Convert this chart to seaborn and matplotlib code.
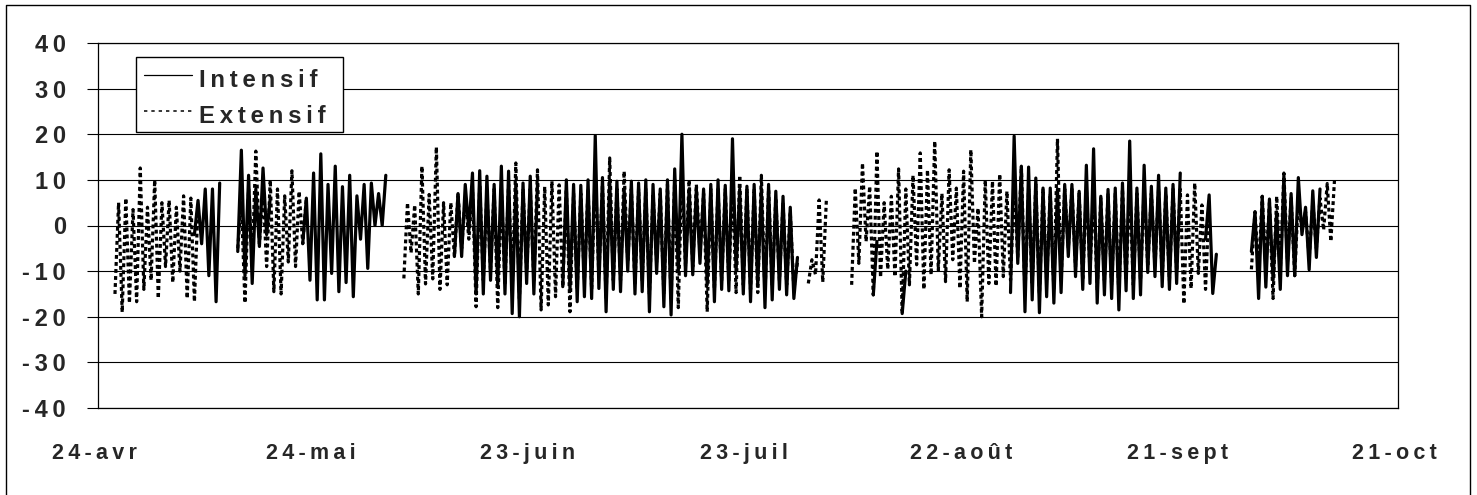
import pandas as pd
import matplotlib
matplotlib.use("Agg")
import matplotlib.pyplot as plt
from matplotlib.lines import Line2D
from matplotlib.transforms import ScaledTranslation
import seaborn as sns

# daily minima and maxima, one pair per day of each block
# first value of a block = day counted from 24-avr
ext1_start = 2.35
ext1_min = [-15, -19, -17, -16.7, -14, -12, -16, -9, -12.5, -10, -16, -16.7]
ext1_max = [5, 6, 3.5, 12.6, 4, 10, 5, 5.5, 4, 6.5, 6, 4.5]

ext2_start = 19.35
ext2_min = [-5, -17, -8, -4, -9, -14.5, -15, -8, -9, -4]
ext2_max = [5, 8, 16.3, 8, 10, 8, 6.5, 12, 7.5, 6]

ext3_start = 42.35
ext3_min = [-11.6, -6, -15, -12.8, -11.7, -14, -13, -6.8, -5, -3, -17.8,
            -12, -10, -18, -13, -14, -16, -10, -12, -18.5, -17.4, -15.6, -13.4, -18.9,
            -14, -12, -14, -11, -16, -12, -12, -8, -13, -12, -15, -8, -15, -16,
            -18, -9, -9, -6, -18.9, -14, -12, -12, -14.7, -13, -14, -14.7, -15, -13, -12, -13, -14]
ext3_max = [5, 4.5, 13, 6.8, 17.2, 5, 5, 7, 6, 8, 9,
            7, 8, 8, 9, 13.7, 8, 8, 12.2, 8.5, 9.7, 8.9, 8, 7,
            7, 8, 12, 9, 14.8, 8, 11.9, 8, 8, 8, 7, 7, 9, 10,
            12, 10, 9, 7, 8, 8, 8, 9, 11, 8, 8, 11, 8, 6, 5, 3, -8]

ext4_start = 98.35
ext4_min = [-12.7, -10.8, -12.4]
ext4_max = [-7.5, 5.6, 5.6]

ext5_start = 104.35
ext5_min = [-13, -8.3, -3.5, -15.2, -11.4, -9.6, -11.2, -19.3, -13, -8.6, -14, -10.8, -9.8,
            -12.3, -7.5, -13.8, -16.7, -8.3, -20, -12.7, -13.3, -11.2,
            -12, -7, -15, -13, -15, -12, -14, -12, -5, -9, -12, -10, -14, -12, -13, -15,
            -12, -13, -12, -9, -9, -11, -12, -10, -17.2, -13.8, -10.5, -14]
ext5_max = [8.2, 13.7, 8.6, 16.3, 5, 6.4, 12.4, 8, 11, 15.9, 12.2, 18.5, 7,
            12.2, 8.2, 11.9, 16.6, 3.8, 10, 9.7, 11.3, 7.5,
            8, 13, 8, 9, 8, 7, 19, 8, 8, 7, 8, 8, 6, 7, 7, 8,
            8, 7, 8, 7, 8, 7, 8, 8, 6.7, 9.3, 4.5, 5]

ext6_start = 159.7
ext6_min = [-9.6, -10, -9, -16, -10, -8, -11, -1, -7, -5, -1, -3.5]
ext6_max = [3, 6.4, 5, 6.4, 11.5, 6, 6, 3, 5, 6, 9.2, 9.8]

int1_start = 13.35
int1_min = [-2, -4, -11, -16.7]
int1_max = [5.5, 8, 8, 9.3]

int2_start = 19.35
int2_min = [-5.7, -11, -12.7, -4.6, -2]
int2_max = [16.5, 11, 8, 12.6, 6]

int3_start = 28.35
int3_min = [-3.9, -12, -16.3, -16.3, -10.5, -14.5, -12.5, -15.6, -3, -9.4, 0, 0]
int3_max = [6, 11.5, 15.7, 9, 13, 8.5, 11, 6.5, 9, 9.3, 7, 11]

int4_start = 49.35
int4_min = [-6.8, -6.8, -1, -15, -15, -12, -13, -15, -19.3, -20, -12.7, -15]
int4_max = [7, 9, 11.5, 12, 10.8, 9, 13, 11.9, 9, 9.3, 10.8, 9]

int5_start = 64.35
int5_min = [-13.4, -14, -16.7, -15.6, -16, -13.8, -18.9, -14, -14.5, -10, -15, -14.5, -18.9,
            -10.5, -17.8, -19.6, -10, -11, -10.8, -8.3, -13, -16.7, -14, -14.3, -10, -15,
            -16.7, -13, -18, -16.3, -14, -15.2, -16]
int5_max = [10, 9, 8.8, 10, 19.7, 10.5, 10, 9.7, 8, 9.7, 9.3, 10, 9,
            8, 10, 12.4, 20, 8, 8, 8, 9, 10, 8.8, 19, 8, 8.6,
            9, 8, 9, 7.5, 6.4, 4, -7]

int6_start = 126.35
int6_min = [-14.7, -8.3, -18.9, -16.3, -19.1, -15.6, -17, -14.7, -6.8, -11.2, -14, -12.7, -17, -15.2,
            -16, -18.5, -14.3, -16, -15.2, -10.3, -11.2, -13.4, -14, -12.7]
int6_max = [19.6, 13, 12.8, 10.4, 8.2, 8.2, 8, 9, 9, 7.5, 13.2, 16.8, 6.4, 7.9,
            8.2, 9.3, 18.5, 8.2, 13.2, 8.6, 11, 8.2, 9, 11.5]

int7_start = 153.35
int7_min = [-3, -14.9]
int7_max = [6.7, -6.3]

int8_start = 159.7
int8_min = [-5.7, -16, -13.5, -12, -14, -11, -11, -2, -9.7, -7]
int8_max = [3, 6.4, 5.8, 3, 11, 7, 10.5, 4, 7.6, 8]

int9_start = 107.35
int9_min = [-15.2]
int9_max = [-3.5]

int10_start = 111.35
int10_min = [-19.3]
int10_max = [-10]

y_ticks = [-40, -30, -20, -10, 0, 10, 20, 30, 40]
x_ticks = [0, 30, 60, 90, 120, 150, 180]
x_labels = ["24-avr", "24-mai", "23-juin", "23-juil", "22-août", "21-sept", "21-oct"]

blocks = [
    ("Extensif", ext1_start, ext1_min, ext1_max),
    ("Extensif", ext2_start, ext2_min, ext2_max),
    ("Extensif", ext3_start, ext3_min, ext3_max),
    ("Extensif", ext4_start, ext4_min, ext4_max),
    ("Extensif", ext5_start, ext5_min, ext5_max),
    ("Extensif", ext6_start, ext6_min, ext6_max),
    ("Intensif", int1_start, int1_min, int1_max),
    ("Intensif", int2_start, int2_min, int2_max),
    ("Intensif", int3_start, int3_min, int3_max),
    ("Intensif", int4_start, int4_min, int4_max),
    ("Intensif", int5_start, int5_min, int5_max),
    ("Intensif", int6_start, int6_min, int6_max),
    ("Intensif", int7_start, int7_min, int7_max),
    ("Intensif", int8_start, int8_min, int8_max),
    ("Intensif", int9_start, int9_min, int9_max),
    ("Intensif", int10_start, int10_min, int10_max),
]

# long table: min then max for each day, one unit per block
rows = []
for num, (serie, start, mins, maxs) in enumerate(blocks):
    for i in range(len(mins)):
        rows.append([num, serie, start + i, mins[i]])
        rows.append([num, serie, start + i + 0.5, maxs[i]])
data = pd.DataFrame(rows, columns=["block", "serie", "day", "temp"])


def spaced(text):
    # the original labels are drawn with wide letter spacing
    return "\u2009".join(text)


sns.set_style("white")
plt.rcParams["font.family"] = ["Liberation Sans", "DejaVu Sans"]
plt.rcParams["font.weight"] = "bold"

fig = plt.figure(figsize=(14.77, 4.95), dpi=100)
ax = fig.add_axes([98 / 1477, 1 - 408 / 495, 1300 / 1477, 365 / 495])

sns.lineplot(data=data, x="day", y="temp", style="serie", units="block", estimator=None, sort=False,
             color="black", linewidth=2.3, legend=False, ax=ax,
             style_order=["Intensif", "Extensif"], dashes={"Intensif": (None, None), "Extensif": (1.2, 1.0)})

ax.set_xlim(0, 180)
ax.set_ylim(-40, 40)
ax.set_yticks(y_ticks)
ax.set_yticklabels([spaced(str(v)) for v in y_ticks], fontsize=17)
ax.set_xticks(x_ticks)
ax.set_xticklabels([spaced(s) for s in x_labels], fontsize=15.5)
ax.set_xlabel("")
ax.set_ylabel("")
ax.grid(axis="y", color="black", linewidth=0.8)
ax.grid(axis="x", visible=False)
ax.set_axisbelow(True)
ax.tick_params(axis="y", left=True, length=8, width=0.8, color="black", pad=15)
ax.tick_params(axis="x", bottom=False, pad=22)
for label in ax.get_xticklabels():
    label.set_transform(label.get_transform() + ScaledTranslation(-4 / 100, 0, fig.dpi_scale_trans))
for side in ax.spines:
    ax.spines[side].set_color("black")
    ax.spines[side].set_linewidth(0.9)

handles = [Line2D([], [], color="black", linewidth=0.9),
           Line2D([], [], color="black", linewidth=1.1, dashes=(2.2, 2.6))]
leg = ax.legend(handles, [spaced("Intensif"), spaced("Extensif") + "\u2009\u2009"], loc="upper left",
                bbox_to_anchor=(38 / 1300, 351 / 365), borderaxespad=0, fancybox=False, framealpha=1,
                edgecolor="black", fontsize=17.3, handlelength=2.0, handletextpad=0.3, labelspacing=0.55,
                borderpad=0.33)
# labels sit a little lower than their line samples
for text in leg.get_texts():
    text.set_y(-4)

# outer frame of the chart, open at the bottom
fig.add_artist(Line2D([6 / 1477, 6 / 1477, 1470 / 1477, 1470 / 1477], [0, 1 - 5 / 495, 1 - 5 / 495, 0],
                      color="black", linewidth=1.0))

fig.savefig("out.png", dpi=100)
